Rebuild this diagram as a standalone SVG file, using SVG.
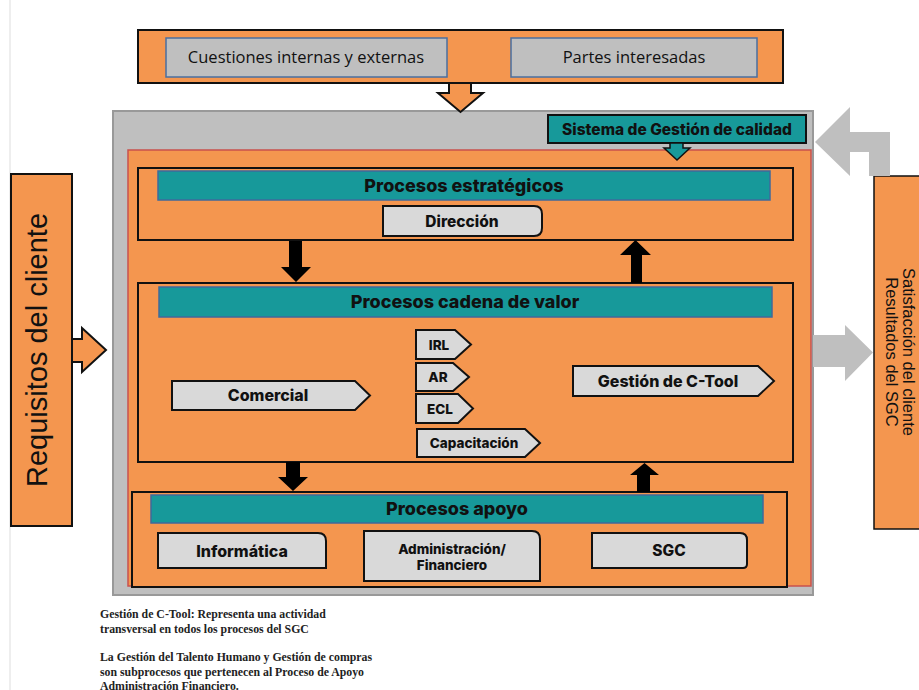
<svg xmlns="http://www.w3.org/2000/svg" width="919" height="690" viewBox="0 0 919 690">
<style>
.or{fill:#F4964F;stroke:#111;stroke-width:2}
.hd{fill:#17999A;stroke:#3F6A9C;stroke-width:1.5}
.lb{fill:#D9D9D9;stroke:#111;stroke-width:2}
.gb{fill:#BFBFBF;stroke:#4A6FA0;stroke-width:1.5}
.blk{fill:#000}
.b{font-family:Inter,"Open Sans","DejaVu Sans",sans-serif;font-weight:800;fill:#111;text-anchor:middle}
.n{font-family:"Liberation Sans",Arial,sans-serif;fill:#111;text-anchor:middle}
.o{font-family:"Open Sans","Liberation Sans",sans-serif;fill:#111;text-anchor:middle}
.note{font-family:"Liberation Serif","Times New Roman",serif;font-weight:bold;font-size:11.8px;fill:#222}
</style>
<rect width="919" height="690" fill="#fff"/>
<line x1="10" y1="0" x2="10" y2="690" stroke="#ddd" stroke-width="1"/>

<g id="entradas">
<rect class="or" x="138" y="30" width="645" height="53"/>
<rect class="gb" x="166" y="38" width="281" height="39"/>
<text class="o" x="306" y="63" font-size="16.5">Cuestiones internas y externas</text>
<rect class="gb" x="511" y="38" width="246" height="39"/>
<text class="o" x="634" y="63" font-size="16.5">Partes interesadas</text>
</g>

<g id="sgc-marco">
<rect x="113" y="111" width="700" height="484" fill="#BFBFBF" stroke="#999" stroke-width="2"/>
<rect x="128" y="150" width="683" height="436" fill="#F4964F" stroke="#C9514E" stroke-width="1.5"/>
</g>

<g id="sistema">
<rect x="548" y="115" width="258" height="28" fill="#17999A" stroke="#111" stroke-width="2"/>
<text class="b" x="677" y="135" font-size="15.5">Sistema de Gestión de calidad</text>
</g>

<g id="requisitos">
<rect class="or" x="11" y="174" width="61" height="352"/>
<text class="n" font-size="29" transform="translate(47,350) rotate(-90)">Requisitos del cliente</text>
</g>

<g id="satisfaccion">
<rect x="874" y="176" width="50" height="353" fill="#F4964F" stroke="#111" stroke-width="1.5"/>
<text class="n" font-size="16.5" transform="translate(903,352) rotate(90)">Satisfacción del cliente</text>
<text class="n" font-size="16.5" transform="translate(886,352) rotate(90)">Resultados del SGC</text>
</g>

<g id="estrategicos">
<rect class="or" x="138" y="168" width="655" height="72"/>
<rect class="hd" x="158" y="171" width="612" height="29"/>
<text class="b" x="464" y="192" font-size="18">Procesos estratégicos</text>
<path class="lb" d="M383,206 H534 Q542,206 542,214 V228 Q542,236 534,236 H383 Z"/>
<text class="b" x="462" y="227" font-size="15.5">Dirección</text>
</g>

<g id="cadena">
<rect class="or" x="138" y="283" width="655" height="179"/>
<rect class="hd" x="159" y="287" width="613" height="30"/>
<text class="b" x="465" y="308" font-size="18">Procesos cadena de valor</text>
<polygon class="lb" points="172,381 355,381 370,395.5 355,410 172,410"/>
<text class="b" x="268" y="401" font-size="16">Comercial</text>
<polygon class="lb" points="416,330 455,330 471,344.5 455,359 416,359"/>
<text class="b" x="439" y="350" font-size="13.5">IRL</text>
<polygon class="lb" points="416,363 453,363 469,377 453,391 416,391"/>
<text class="b" x="438" y="382" font-size="13.5">AR</text>
<polygon class="lb" points="416,394 458,394 473,408.5 458,423 416,423"/>
<text class="b" x="440" y="414" font-size="13.5">ECL</text>
<polygon class="lb" points="417,429 525,429 540,443 525,457 417,457"/>
<text class="b" x="474" y="448" font-size="13.5">Capacitación</text>
<polygon class="lb" points="573,366 758,366 774,381 758,396 573,396"/>
<text class="b" x="668" y="387" font-size="16">Gestión de C-Tool</text>
</g>

<g id="apoyo">
<rect class="or" x="132" y="492" width="655" height="95"/>
<rect class="hd" x="151" y="495" width="612" height="28"/>
<text class="b" x="457" y="515" font-size="18">Procesos apoyo</text>
<path class="lb" d="M158,533 H318 Q326,533 326,541 V568 H158 Z"/>
<text class="b" x="242" y="557" font-size="16">Informática</text>
<path class="lb" d="M364,531 H532 Q540,531 540,539 V581 H364 Z"/>
<text class="b" x="452" y="554" font-size="13.5">Administración/</text>
<text class="b" x="452" y="570" font-size="13.5">Financiero</text>
<path class="lb" d="M592,533 H740 Q747,533 747,540 V564 Q747,568 743,568 H592 Z"/>
<text class="b" x="669" y="556" font-size="15.5">SGC</text>
</g>

<g id="conectores">
<polygon class="or" points="449,83 449,93 438,93 460.5,112 483,93 471,93 471,83"/>
<polygon fill="#17999A" stroke="#111" stroke-width="1.5" points="670,143 670,148 664,148 677,160 690,148 683,148 683,143"/>
<polygon fill="#BFBFBF" points="815,142 850,107 850,132 890,132 890,176 869,176 869,152 850,152 850,176"/>
<polygon fill="#BFBFBF" points="813,335 845,335 845,325 873,352.5 845,381 845,367 813,367"/>
<polygon class="or" points="72,339 82,339 82,328 106,350 82,372 82,362 72,362"/>
<polygon class="blk" points="289,241 302,241 302,267 311,267 296,282 281,267 289,267"/>
<polygon class="blk" points="631,283 642,283 642,255 651,255 635.5,240 620,255 631,255"/>
<polygon class="blk" points="286,462 300,462 300,477 308,477 293,491 278,477 286,477"/>
<polygon class="blk" points="637,492 650,492 650,475 659,475 644.5,463 630,475 637,475"/>
</g>

<g id="notas">
<text class="note" x="100" y="618">Gestión de C-Tool: Representa una actividad</text>
<text class="note" x="100" y="633">transversal en todos los procesos del SGC</text>
<text class="note" x="100" y="661">La Gestión del Talento Humano y Gestión de compras</text>
<text class="note" x="100" y="676">son subprocesos que pertenecen al Proceso de Apoyo</text>
<text class="note" x="100" y="690">Administración Financiero.</text>
</g>
</svg>
